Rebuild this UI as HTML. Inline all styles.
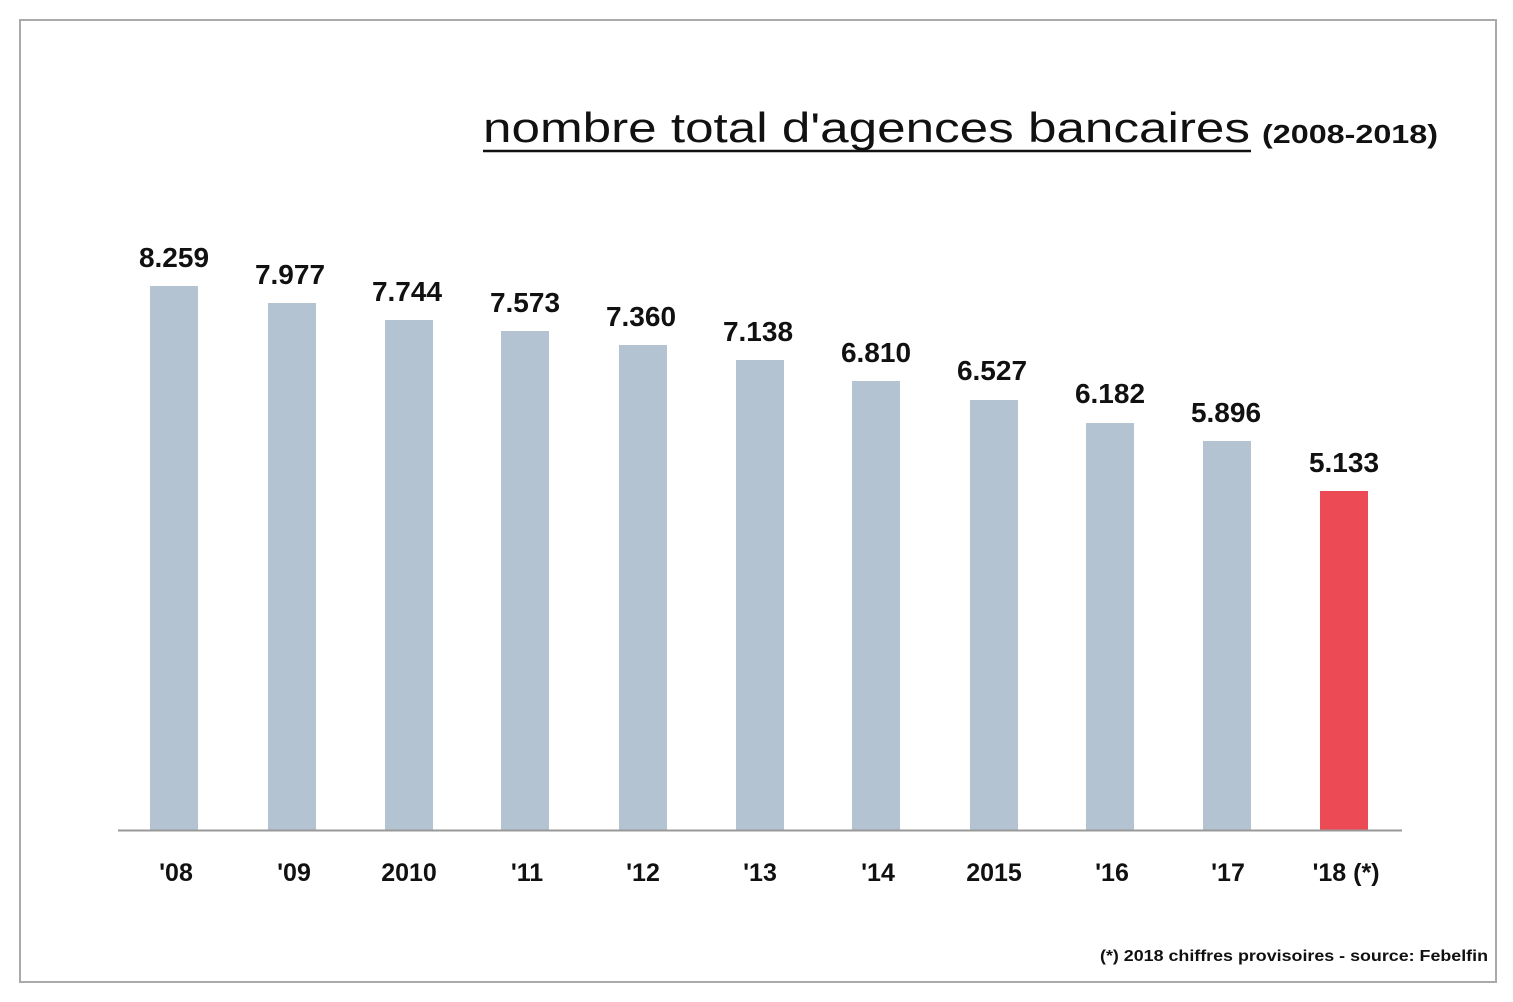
<!DOCTYPE html>
<html><head><style>
body{margin:0;background:#fff;width:1513px;height:997px;overflow:hidden}
</style></head><body>
<svg width="1513" height="997" xmlns="http://www.w3.org/2000/svg" font-family="Liberation Sans, sans-serif">
<rect x="0" y="0" width="1513" height="997" fill="#fff"/>
<rect x="20" y="20" width="1476" height="962" fill="#fff" stroke="#aaa" stroke-width="2"/>
<text x="483" y="142" font-size="42" fill="#111" textLength="767" lengthAdjust="spacingAndGlyphs">nombre total d'agences bancaires</text>
<line x1="483" y1="151" x2="1251" y2="151" stroke="#111" stroke-width="2.5"/>
<text x="1262" y="143" font-size="26" font-weight="bold" fill="#111" textLength="176" lengthAdjust="spacingAndGlyphs">(2008-2018)</text>
<g fill="#b4c3d1">
<rect x="150" y="286" width="48" height="544"/>
<rect x="268" y="303" width="48" height="527"/>
<rect x="385" y="320" width="48" height="510"/>
<rect x="501" y="331" width="48" height="499"/>
<rect x="619" y="345" width="48" height="485"/>
<rect x="736" y="360" width="48" height="470"/>
<rect x="852" y="381" width="48" height="449"/>
<rect x="970" y="400" width="48" height="430"/>
<rect x="1086" y="423" width="48" height="407"/>
<rect x="1203" y="441" width="48" height="389"/>
</g>
<rect x="1320" y="491" width="48" height="339" fill="#ec4a55"/>
<line x1="118" y1="830.5" x2="1402" y2="830.5" stroke="#999" stroke-width="2"/>
<g font-size="28" font-weight="bold" fill="#111" text-anchor="middle">
<text x="174" y="267">8.259</text>
<text x="290" y="284">7.977</text>
<text x="407" y="301">7.744</text>
<text x="525" y="312">7.573</text>
<text x="641" y="326">7.360</text>
<text x="758" y="341">7.138</text>
<text x="876" y="362">6.810</text>
<text x="992" y="380">6.527</text>
<text x="1110" y="403">6.182</text>
<text x="1226" y="422">5.896</text>
<text x="1344" y="472">5.133</text>
</g>
<g font-size="25" font-weight="bold" fill="#111" text-anchor="middle">
<text x="176" y="881">'08</text>
<text x="294" y="881">'09</text>
<text x="409" y="881">2010</text>
<text x="527" y="881">'11</text>
<text x="643" y="881">'12</text>
<text x="760" y="881">'13</text>
<text x="878" y="881">'14</text>
<text x="994" y="881">2015</text>
<text x="1112" y="881">'16</text>
<text x="1228" y="881">'17</text>
<text x="1346" y="881">'18 (*)</text>
</g>
<text x="1488" y="961" font-size="16" font-weight="bold" fill="#111" text-anchor="end" textLength="388" lengthAdjust="spacingAndGlyphs">(*) 2018 chiffres provisoires - source: Febelfin</text>
</svg>
</body></html>
